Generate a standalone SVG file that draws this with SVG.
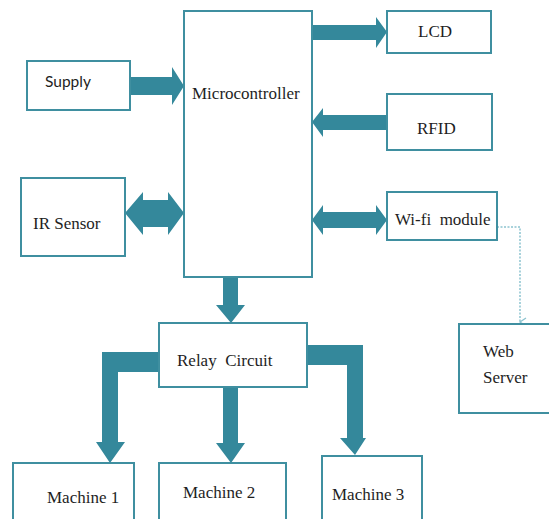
<svg xmlns="http://www.w3.org/2000/svg" width="549" height="519" viewBox="0 0 549 519">
<style>
.box{fill:#fff;stroke:#3f8fa0;stroke-width:2}
.t{font-family:'Liberation Serif','Times New Roman',Times,serif;font-size:17px;fill:#1e1e1e}
.s{font-family:Lato,'Liberation Sans',Arial,sans-serif;font-size:15.5px;fill:#1e1e1e}
.ar{fill:#34889b}
.dot{fill:none;stroke:#8cc3cf;stroke-width:1.5;stroke-dasharray:2 1.5}
</style>
<defs>
<marker id="open" markerWidth="10" markerHeight="10" refX="5" refY="8" orient="auto" markerUnits="userSpaceOnUse">
<path d="M1,2 L5,8 L9,2" fill="none" stroke="#8cc3cf" stroke-width="1.3"/>
</marker>
</defs>
<rect width="549" height="519" fill="#fff"/>
<g id="connectors">
<path class="ar" d="M130,77 H172 V67 L184,86 L172,105 V95 H130 Z"/>
<path class="ar" d="M125,213 L143,192 V200 H168 V192 L184,213 L168,235 V227 H143 V235 Z"/>
<path class="ar" d="M312,25 H376 V17 L387,32 L376,48 V40 H312 Z"/>
<path class="ar" d="M312,122 L323,108 V115 H387 V130 H323 V137 Z"/>
<path class="ar" d="M312,220 L323,205 V212 H376 V205 L387,220 L376,235 V228 H323 V235 Z"/>
<path class="ar" d="M223,277 H238 V305 H245 L231,323 L216,305 H223 Z"/>
<path class="ar" d="M159,352 V372 H118 V442 H125 L110,463 L96,442 H102 V352 Z"/>
<path class="ar" d="M223,387 H238 V443 H245 L231,463 L216,443 H223 Z"/>
<path class="ar" d="M307,345 H363 V438 H366 L355,455 L340,438 H347 V365 H307 Z"/>
<path class="dot" d="M497,227 H520 V322" marker-end="url(#open)"/>
</g>
<g id="microcontroller"><rect class="box" x="184" y="11" width="128" height="266"/><text class="t" x="192" y="99">Microcontroller</text></g>
<g id="supply"><rect class="box" x="27" y="61" width="103" height="49"/><text class="s" x="45" y="87">Supply</text></g>
<g id="ir-sensor"><rect class="box" x="21" y="178" width="104" height="78"/><text class="t" x="33" y="229">IR Sensor</text></g>
<g id="lcd"><rect class="box" x="387" y="11" width="104" height="42"/><text class="t" x="418" y="37">LCD</text></g>
<g id="rfid"><rect class="box" x="387" y="94" width="105" height="56"/><text class="t" x="417" y="134">RFID</text></g>
<g id="wifi"><rect class="box" x="387" y="192" width="110" height="48"/><text class="t" x="395" y="225" xml:space="preserve">Wi-fi  module</text></g>
<g id="web-server"><rect class="box" x="459" y="324" width="95" height="89"/><text class="t" x="483" y="357">Web</text><text class="t" x="483" y="383">Server</text></g>
<g id="relay"><rect class="box" x="159" y="323" width="148" height="64"/><text class="t" x="177" y="366" xml:space="preserve">Relay  Circuit</text></g>
<g id="machine1"><rect class="box" x="13" y="463" width="121" height="62"/><text class="t" x="47" y="503">Machine 1</text></g>
<g id="machine2"><rect class="box" x="159" y="463" width="127" height="62"/><text class="t" x="183" y="498">Machine 2</text></g>
<g id="machine3"><rect class="box" x="322" y="456" width="100" height="69"/><text class="t" x="332" y="500">Machine 3</text></g>
</svg>
